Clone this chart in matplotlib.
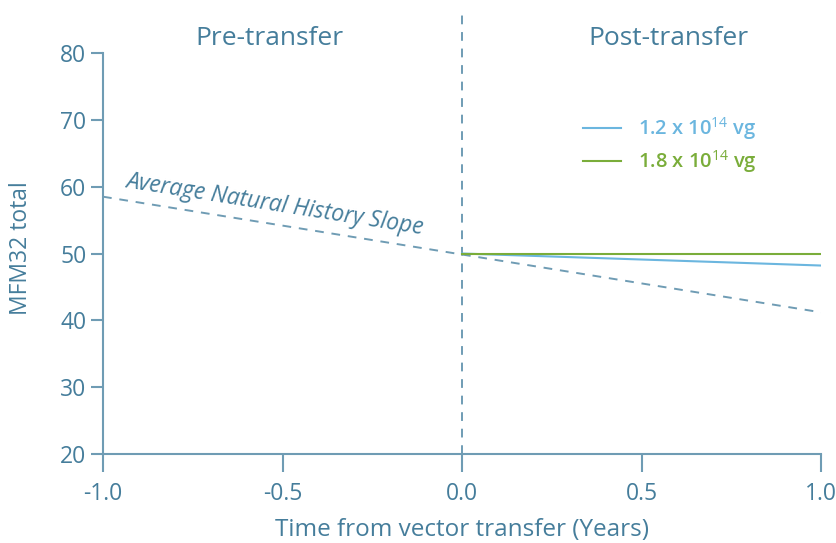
import matplotlib
matplotlib.use("Agg")
import matplotlib.pyplot as plt
import numpy as np

# Data
slope_x = [-1.0, 1.0]
slope_y = [58.5, 41.2]
dose_labels = ["1.2 x 10$^{14}$ vg", "1.8 x 10$^{14}$ vg"]
dose_x = [[0.0, 1.0], [0.0, 1.0]]
dose_y = [[50.0, 48.2], [50.0, 50.0]]
dose_colors = ["#6bb6df", "#7aad3a"]
xticks = [-1.0, -0.5, 0.0, 0.5, 1.0]
xticklabels = ["-1.0", "-0.5", "0.0", "0.5", "1.0"]
yticks = [20, 30, 40, 50, 60, 70, 80]

plt.rcParams['font.family'] = ['Open Sans', 'DejaVu Sans']
plt.rcParams['mathtext.fontset'] = 'custom'
plt.rcParams['mathtext.rm'] = 'Open Sans'
plt.rcParams['mathtext.bf'] = 'Open Sans:bold'
tc = "#457d9b"
sc = "#6f9cb4"

fig = plt.figure(figsize=(8.36, 5.43), dpi=100)
ax = fig.add_axes([103/836, 1-454/543, (821-103)/836, (454-15)/543])
ax.set_xlim(-1.0, 1.0)
ax.set_ylim(20, 80 + (53-15)/6.683)

ax.plot(slope_x, slope_y, ls=(0, (4.5, 4)), color=sc, lw=1.4)
ax.axvline(0, ls=(0, (4.5, 4)), color=sc, lw=1.4)
for xs, ys, c, lab in zip(dose_x, dose_y, dose_colors, dose_labels):
    ax.plot(xs, ys, color=c, lw=1.5, label=lab)

for s in ['top', 'right']:
    ax.spines[s].set_visible(False)
ax.spines['left'].set_bounds(20, 80)
for s in ['left', 'bottom']:
    ax.spines[s].set_color(sc)
    ax.spines[s].set_linewidth(1.5)

ax.set_yticks(yticks)
ax.set_xticks(xticks)
ax.set_xticklabels(xticklabels)
ax.tick_params(axis='y', direction='out', length=9, width=1.5, color=sc, labelcolor=tc, labelsize=16.5, pad=3)
ax.tick_params(axis='x', direction='out', length=13, width=1.5, color=sc, labelcolor=tc, labelsize=16.5, pad=7)

ax.set_xlabel("Time from vector transfer (Years)", color=tc, fontsize=17.5, labelpad=9)
ax.set_ylabel("MFM32 total", color=tc, fontsize=16.5)
ax.yaxis.set_label_coords(-0.097, 0.469)

ax.text(-0.535, 82.2, "Pre-transfer", color=tc, fontsize=19, ha='center', va='center')
ax.text(0.574, 82.2, "Post-transfer", color=tc, fontsize=19, ha='center', va='center')

ax.text(-0.939, 59.9, "Average Natural History Slope", color=tc, fontsize=16.5,
        style='italic', rotation=-9.0, rotation_mode='anchor', ha='left', va='baseline')

leg = ax.legend(loc='center left', bbox_to_anchor=(0.6685, 0.704), frameon=False,
                fontsize=14.5, handlelength=1.9, handletextpad=0.85, labelspacing=0.3,
                borderaxespad=0, borderpad=0)
for t, c in zip(leg.get_texts(), dose_colors):
    t.set_color(c)
    t.set_fontweight('semibold')

fig.savefig("out.png", dpi=100)
